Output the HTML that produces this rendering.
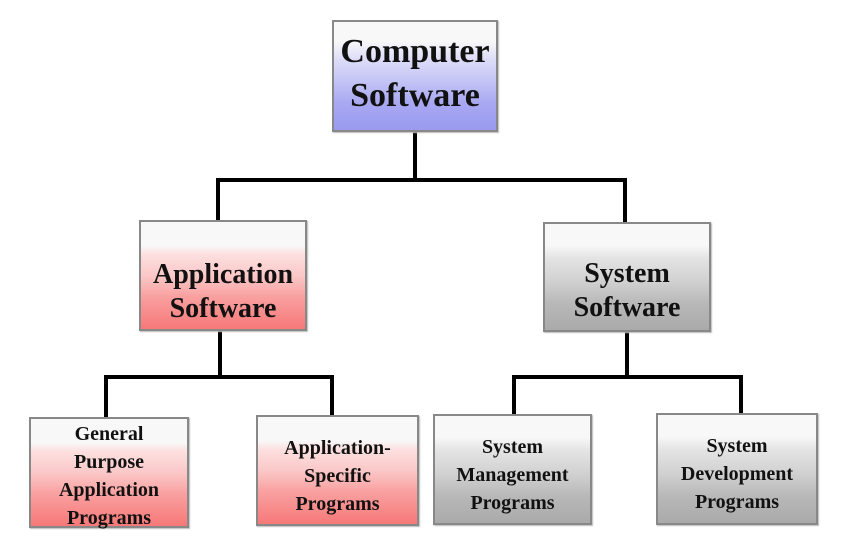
<!DOCTYPE html>
<html><head><style>
body{margin:0;width:845px;height:554px;background:#fff;position:relative;overflow:hidden;font-family:"Liberation Serif",serif;font-weight:bold;color:#111}
.b{position:absolute;box-sizing:border-box;border:2px solid #888;display:flex;align-items:center;justify-content:center;text-align:center;box-shadow:1px 1px 1px #bbb}
.blue{background:linear-gradient(#f8f8f8 0%,#f8f8f8 18%,#dcdcf8 35%,#c4c4f6 55%,#a8a8f2 75%,#9a9af0 100%)}
.red{background:linear-gradient(#f8f8f8 0%,#f8f8f8 22%,#fde0e0 30%,#fbc8c8 50%,#f9a0a0 70%,#f77878 100%)}
.gray{background:linear-gradient(#f8f8f8 0%,#f8f8f8 20%,#e4e4e4 32%,#d0d0d0 55%,#b8b8b8 75%,#aaa 100%)}
.l{position:absolute;background:#000}
.big{font-size:34px;line-height:44px;white-space:nowrap}
.mid{font-size:28px;line-height:34px;white-space:nowrap}
.sm{font-size:20px;line-height:28px;white-space:nowrap}
</style></head><body>
<div class="l" style="left:413px;top:130px;width:4px;height:52px"></div>
<div class="l" style="left:216px;top:178px;width:411px;height:4px"></div>
<div class="l" style="left:216px;top:178px;width:4px;height:43px"></div>
<div class="l" style="left:623px;top:178px;width:4px;height:44px"></div>
<div class="l" style="left:218px;top:330px;width:4px;height:48px"></div>
<div class="l" style="left:104px;top:375px;width:230px;height:4px"></div>
<div class="l" style="left:104px;top:375px;width:4px;height:43px"></div>
<div class="l" style="left:330px;top:375px;width:4px;height:41px"></div>
<div class="l" style="left:625px;top:331px;width:4px;height:47px"></div>
<div class="l" style="left:512px;top:375px;width:231px;height:4px"></div>
<div class="l" style="left:512px;top:375px;width:4px;height:40px"></div>
<div class="l" style="left:739px;top:375px;width:4px;height:39px"></div>

<div class="b blue" style="left:332px;top:20px;width:166px;height:112px"><div class="big" style="margin-top:-4px">Computer<br>Software</div></div>
<div class="b red" style="left:139px;top:220px;width:168px;height:111px"><div class="mid" style="margin-top:32px">Application<br>Software</div></div>
<div class="b gray" style="left:543px;top:222px;width:168px;height:110px"><div class="mid" style="margin-top:28px">System<br>Software</div></div>
<div class="b red" style="left:29px;top:417px;width:160px;height:111px"><div class="sm" style="margin-top:6px">General<br>Purpose<br>Application<br>Programs</div></div>
<div class="b red" style="left:256px;top:415px;width:163px;height:111px"><div class="sm" style="margin-top:10px">Application-<br>Specific<br>Programs</div></div>
<div class="b gray" style="left:433px;top:414px;width:159px;height:111px"><div class="sm" style="margin-top:10px">System<br>Management<br>Programs</div></div>
<div class="b gray" style="left:656px;top:413px;width:162px;height:112px"><div class="sm" style="margin-top:10px">System<br>Development<br>Programs</div></div>
</body></html>
